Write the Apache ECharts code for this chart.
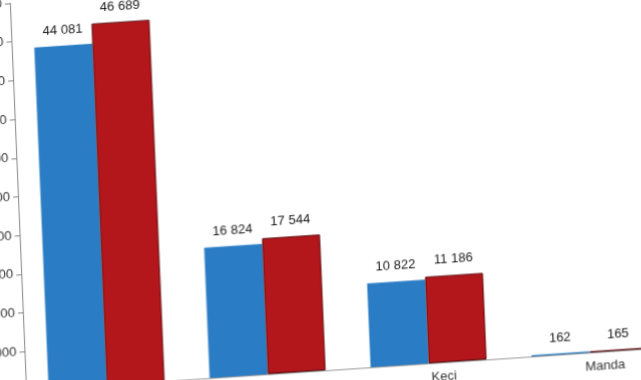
<!DOCTYPE html>
<html>
<head>
<meta charset="utf-8">
<script src="https://cdn.jsdelivr.net/npm/echarts@6/dist/echarts.min.js"></script>
<style>
html,body{margin:0;padding:0;width:641px;height:380px;overflow:hidden;background:#fff;}
#chart{position:absolute;left:-31.5px;top:-14px;width:760px;height:480px;
transform-origin:0 0;transform:matrix(1,-0.067,0.042,1,0,0);}
</style>
</head>
<body>
<div id="chart"></div>
<script>
const categories = ['Koyun', 'Sığır', 'Keçi', 'Manda'];
const seriesNames = ['2022', '2023'];
const valuesFirst = [44081, 16824, 10822, 162];
const valuesSecond = [46689, 17544, 11186, 165];
const yTicks = { min: 0, max: 50000, interval: 5000 };
const colors = ['#2a7cc4', '#b3161b'];

const fmt = v => String(v).replace(/\B(?=(\d{3})+(?!\d))/g, ' ');

const chart = echarts.init(document.getElementById('chart'), null, { renderer: 'canvas' });
const labelStyle = {
  show: true, position: 'top', distance: 9,
  fontFamily: 'Liberation Sans', fontSize: 13, color: '#1a1a1a',
  formatter: p => fmt(p.value)
};
chart.setOption({
  animation: false,
  backgroundColor: '#fff',
  grid: { left: 40, top: 20, width: 644, height: 387, containLabel: false, outerBoundsMode: 'none' },
  xAxis: {
    type: 'category', data: categories,
    axisLine: { show: true, lineStyle: { color: '#999', width: 1 } },
    axisTick: { show: false },
    axisLabel: { fontFamily: 'Liberation Sans', fontSize: 13, color: '#333', margin: 8, padding: [0, 0, 0, 30] }
  },
  yAxis: {
    type: 'value', min: yTicks.min, max: yTicks.max, interval: yTicks.interval,
    axisLine: { show: true, lineStyle: { color: '#888', width: 1 } },
    axisTick: { show: true, length: 5, lineStyle: { color: '#888' } },
    splitLine: { show: false },
    axisLabel: { fontFamily: 'Liberation Sans', fontSize: 13, color: '#333', margin: 8, formatter: fmt }
  },
  series: [
    { name: seriesNames[0], type: 'bar', data: valuesFirst, barWidth: 58, barGap: '0%',
      itemStyle: { color: colors[0] }, label: labelStyle },
    { name: seriesNames[1], type: 'bar', data: valuesSecond, barWidth: 58, barGap: '0%',
      itemStyle: { color: colors[1], borderColor: '#5a0a0c', borderWidth: 1 }, label: labelStyle }
  ]
});
</script>
</body>
</html>
